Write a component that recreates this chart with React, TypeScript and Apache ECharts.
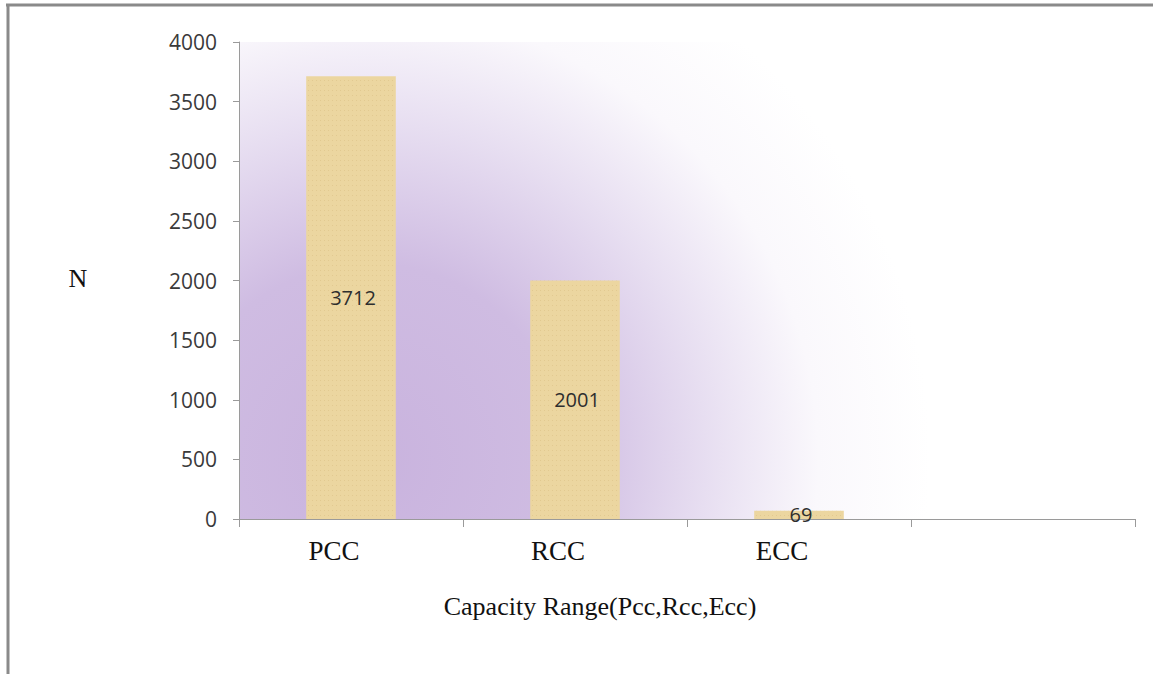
import React, { useEffect, useRef } from "react";
import * as echarts from "echarts";

const categories = ["PCC", "RCC", "ECC", ""];
const values = [3712, 2001, 69, null];
const yTicks = { min: 0, max: 4000, interval: 500 };
const yAxisTitle = "N";
const xAxisTitle = "Capacity Range(Pcc,Rcc,Ecc)";

export default function App() {
  const ref = useRef<HTMLDivElement>(null);
  useEffect(() => {
    if (!ref.current) return;
    const chart = echarts.init(ref.current, null, { renderer: "svg" });
    const serif = "'Liberation Serif', 'DejaVu Serif', serif";
    const sans = "'Open Sans', 'Liberation Sans', sans-serif";
    chart.setOption({
      animation: false,
      backgroundColor: "#ffffff",
      grid: {
        left: 239,
        top: 42,
        width: 896,
        height: 477,
        show: true,
        borderWidth: 0,
        backgroundColor: {
          type: "radial",
          x: 370,
          y: 460,
          r: 560,
          global: true,
          colorStops: [
            { offset: 0, color: "#C9B3DE" },
            { offset: 0.35, color: "#CFBCE2" },
            { offset: 0.6, color: "#E7DEF1" },
            { offset: 0.8, color: "#FAF8FC" },
            { offset: 1, color: "#FFFFFF" },
          ],
        },
      },
      xAxis: {
        type: "category",
        data: categories,
        axisLine: { show: true, lineStyle: { color: "#9a9a9a", width: 1 } },
        axisTick: { show: true, length: 8, lineStyle: { color: "#9a9a9a" } },
        axisLabel: {
          fontFamily: serif,
          fontSize: 27,
          color: "#111111",
          margin: 18,
          padding: [0, 34, 0, 0],
        },
        splitLine: { show: false },
      },
      yAxis: {
        type: "value",
        min: yTicks.min,
        max: yTicks.max,
        interval: yTicks.interval,
        axisLine: { show: true, lineStyle: { color: "#9a9a9a", width: 1 } },
        axisTick: { show: true, length: 6, lineStyle: { color: "#9a9a9a" } },
        axisLabel: {
          fontFamily: sans,
          fontSize: 21,
          color: "#3a3a3a",
          margin: 22,
          formatter: (v: number) => String(v),
        },
        splitLine: { show: false },
      },
      series: [
        {
          type: "bar",
          data: values,
          barWidth: "40%",
          itemStyle: {
            color: "#ECD6A0",
            decal: {
              symbol: "rect",
              symbolSize: 1,
              dashArrayX: [1, 3],
              dashArrayY: [1, 4],
              color: "rgba(190,155,85,0.22)",
            },
          },
          label: {
            show: true,
            position: "inside",
            fontFamily: sans,
            fontSize: 20,
            color: "#2e2e2e",
            offset: [2, 0],
          },
        },
      ],
      graphic: [
        {
          type: "line",
          shape: { x1: 6, y1: 5, x2: 1153, y2: 5 },
          style: { stroke: "#8a8a8a", lineWidth: 3 },
        },
        {
          type: "line",
          shape: { x1: 8, y1: 4, x2: 8, y2: 674 },
          style: { stroke: "#8a8a8a", lineWidth: 3 },
        },
        {
          type: "text",
          x: 78,
          y: 278,
          style: {
            text: yAxisTitle,
            font: `26px ${serif}`,
            fill: "#111111",
            align: "center",
            verticalAlign: "middle",
          },
        },
        {
          type: "text",
          x: 600,
          y: 606,
          style: {
            text: xAxisTitle,
            font: `26px ${serif}`,
            fill: "#111111",
            align: "center",
            verticalAlign: "middle",
          },
        },
      ],
    });
    return () => chart.dispose();
  }, []);
  return (
    <div
      ref={ref}
      style={{ position: "absolute", left: 0, top: 0, width: 1153, height: 674 }}
    />
  );
}
